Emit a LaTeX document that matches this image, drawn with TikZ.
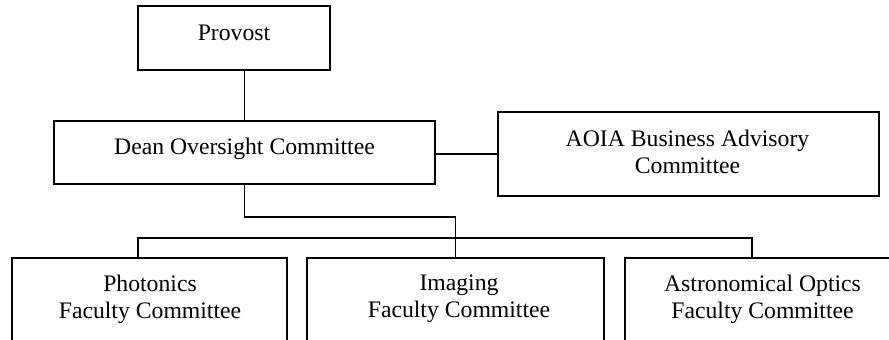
\documentclass[tikz,border=0pt]{standalone}
\usepackage{fontspec}
\setmainfont{Liberation Serif}
\begin{document}
\begin{tikzpicture}[x=1pt,y=1pt,
  box/.style={draw, line width=1.6pt, inner sep=0pt},
  lbl/.style={font=\fontsize{23.7}{27.5}\selectfont, align=center, inner sep=0pt, anchor=north},
  link/.style={line width=1.6pt}]
\useasboundingbox (0,0) rectangle (889,340);
\clip (0,0) rectangle (889,340);

% boxes
\node[box, minimum width=192pt, minimum height=64pt] (provost) at (234,302) {};
\node[box, minimum width=381pt, minimum height=63pt] (dean) at (244.5,187.5) {};
\node[box, minimum width=381pt, minimum height=84pt] (aoia) at (688.5,186) {};
\node[box, minimum width=275pt, minimum height=100pt] (photonics) at (149.5,32) {};
\node[box, minimum width=297pt, minimum height=100pt] (imaging) at (455.5,32) {};
\node[box, minimum width=275pt, minimum height=100pt] (astro) at (762.5,32) {};

% texts
\node[lbl] (provosttxt) at (234,315) {Provost};
\node[lbl] (deantxt) at (244.5,202.5) {Dean Oversight Committee};
\node[lbl] (aoiatxt) at (687.5,210.5) {AOIA Business Advisory\\Committee};
\node[lbl] (photonicstxt) at (150,65.5) {Photonics\\Faculty Committee};
\node[lbl] (imagingtxt) at (459,65.5) {Imaging\\Faculty Committee};
\node[lbl] (astrotxt) at (762.5,65.5) {Astronomical Optics\\Faculty Committee};

% connectors
\coordinate (busL) at (138,102);
\coordinate (busR) at (752,102);
\draw[link] (dean.north) -- (dean.north |- provost.south);
\draw[link] (aoia.west) -- (aoia.west -| dean.east);
\draw[link] (dean.south) -- ++(0,-32) -| (imaging.north);
\draw[link] (photonics.north -| busL) -- (busL) -- (busR) -- (astro.north -| busR);
\end{tikzpicture}
\end{document}
